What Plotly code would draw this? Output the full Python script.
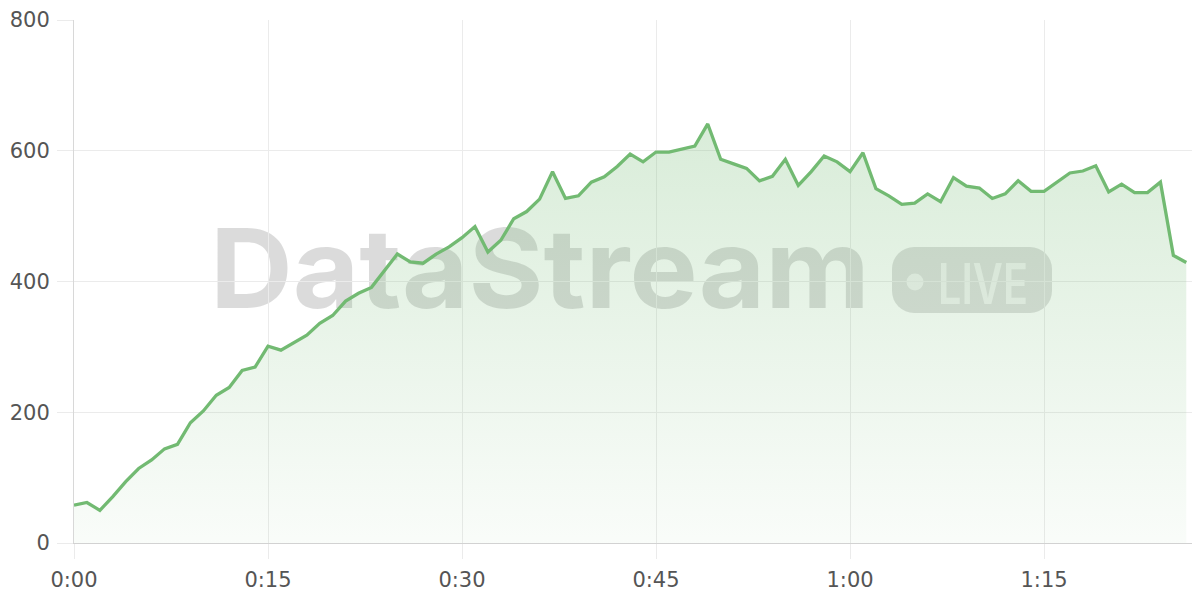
import base64
import plotly.graph_objects as go

# minutes since start
minutes = list(range(0, 87))
values = [58, 62, 50, 71, 94, 114, 127, 144, 151, 184,
          202, 226, 238, 264, 269, 301, 295, 307, 318, 336,
          348, 370, 382, 391, 417, 442, 430, 428, 442, 453,
          467, 484, 445, 463, 496, 507, 526, 568, 527, 531,
          552, 560, 576, 595, 583, 598, 598, 603, 607, 641,
          587, 580, 573, 554, 561, 587, 547, 568, 592, 583,
          568, 597, 542, 531, 518, 520, 534, 522, 559, 546,
          543, 527, 534, 554, 538, 538, 552, 566, 569, 577,
          537, 549, 536, 536, 552, 440, 429]

tick_vals = [0, 15, 30, 45, 60, 75]
tick_text = ["0:00", "0:15", "0:30", "0:45", "1:00", "1:15"]
y_ticks = [0, 200, 400, 600, 800]

# page has an 8px body margin, so the figure is offset by (8, 8)
W, H = 1200, 600
ML, MR, MT, MB = 66, 8, 12, 65
PW, PH = W - ML - MR, H - MT - MB
OFF = 8

# watermark svg (decorative)
svg = (
    '<svg xmlns="http://www.w3.org/2000/svg" width="860" height="110" viewBox="0 0 860 110">'
    '<text x="10" y="86" font-family="Inter, Roboto, sans-serif" font-weight="700" font-size="110" '
    'textLength="660" lengthAdjust="spacingAndGlyphs" fill="#000" fill-opacity="0.14">DataStream</text>'
    '<rect x="692" y="25" width="160" height="66" rx="22" ry="22" fill="#000" fill-opacity="0.13"/>'
    '<circle cx="715" cy="60" r="8.5" fill="#fff" fill-opacity="0.6"/>'
    '<text x="738" y="82" font-family="Inter, Roboto, sans-serif" font-weight="600" font-size="56" '
    'textLength="90" lengthAdjust="spacingAndGlyphs" fill="#fff" fill-opacity="0.6">LIVE</text>'
    '</svg>'
)
svg_uri = "data:image/svg+xml;base64," + base64.b64encode(svg.encode()).decode()

fig = go.Figure()
fig.add_trace(go.Scatter(
    x=minutes, y=values, mode="lines",
    line=dict(color="rgb(114,186,114)", width=3.3),
    fill="tozeroy",
    fillgradient=dict(type="vertical",
                      colorscale=[[0, "rgba(114,186,114,0.04)"], [1, "rgba(114,186,114,0.27)"]]),
    hoverinfo="skip",
))

# reference pixel positions of the watermark box: left 200, top 222 (page coords)
fig.add_layout_image(dict(
    source=svg_uri, xref="paper", yref="paper",
    x=(200 - OFF - ML) / PW, y=(H - MB - (222 - OFF)) / PH,
    sizex=860 / PW, sizey=110 / PH,
    xanchor="left", yanchor="top", sizing="stretch", layer="below",
))

font = dict(family="DejaVu Sans, Verdana, sans-serif", size=21, color="#555555")
fig.update_layout(
    width=W, height=H,
    margin=dict(l=ML, r=MR, t=MT, b=MB, pad=0, autoexpand=False),
    paper_bgcolor="white", plot_bgcolor="rgba(0,0,0,0)",
    showlegend=False,
    font=font,
    xaxis=dict(range=[0, 87.06], tickvals=tick_vals, ticktext=tick_text,
               showgrid=True, gridcolor="#ebebeb", gridwidth=1,
               ticks="outside", ticklen=15, tickcolor="#ebebeb", tickwidth=1,
               ticklabelstandoff=3,
               showline=True, linecolor="#d2d2d2", linewidth=1,
               zeroline=False, tickfont=font, fixedrange=True, automargin=False),
    yaxis=dict(range=[0, 800], tickvals=y_ticks,
               showgrid=True, gridcolor="#ebebeb", gridwidth=1,
               ticks="outside", ticklen=16, tickcolor="#ebebeb", tickwidth=1,
               ticklabelstandoff=3,
               showline=True, linecolor="#d8d8d8", linewidth=1,
               zeroline=False, tickfont=font, fixedrange=True, automargin=False),
)
fig.write_html("out.html")
